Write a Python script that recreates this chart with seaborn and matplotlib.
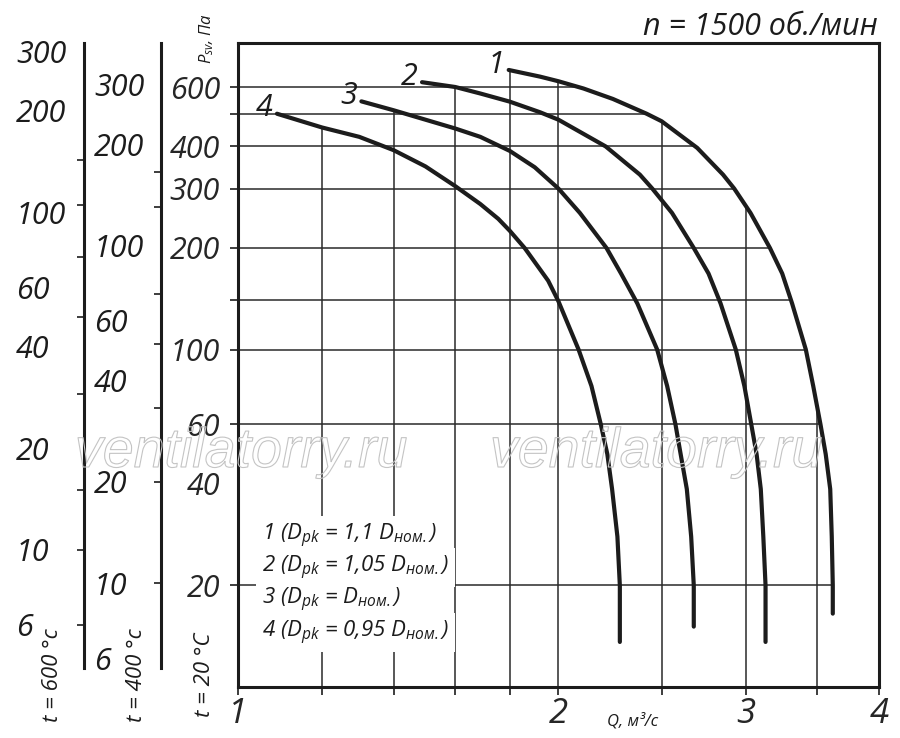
import numpy as np
import pandas as pd
import matplotlib
matplotlib.use('Agg')
import matplotlib.pyplot as plt
import matplotlib.patheffects as pe
import matplotlib.transforms as mtransforms
from matplotlib.ticker import NullFormatter, NullLocator
import seaborn as sns

# fan curves: Q, m3/s and P_sv, Pa (t = 20 C)
q1 = [1.796, 1.922, 2.0, 2.111, 2.25, 2.42, 2.5, 2.70, 2.855, 2.925, 3.03, 3.16, 3.245, 3.315, 3.415, 3.47, 3.525, 3.565, 3.60, 3.612, 3.62, 3.62]
p1 = [674, 644, 624, 594, 553, 500, 475, 396, 330, 300, 254, 200, 168, 137, 100, 78, 60, 49, 38.6, 27.9, 20, 16.5]
q2 = [1.489, 1.6, 1.689, 1.8, 1.922, 2.0, 2.215, 2.385, 2.45, 2.557, 2.68, 2.767, 2.84, 2.935, 2.99, 3.035, 3.07, 3.098, 3.115, 3.13, 3.13]
p2 = [620, 600, 574, 543, 505, 480, 400, 330, 300, 254, 200, 168, 137, 100, 78, 60, 49, 38.6, 27.9, 20, 13.6]
q3 = [1.306, 1.4, 1.6, 1.689, 1.8, 1.9, 2.0, 2.095, 2.219, 2.29, 2.372, 2.476, 2.53, 2.576, 2.605, 2.64, 2.665, 2.68, 2.68]
p3 = [544, 512, 452, 427, 388, 347, 300, 254, 200, 168, 137, 100, 78, 60, 49, 38.6, 27.9, 20, 15.1]
q4 = [1.088, 1.2, 1.3, 1.4, 1.5, 1.6, 1.689, 1.756, 1.8, 1.859, 1.956, 2.0, 2.089, 2.148, 2.192, 2.223, 2.246, 2.272, 2.284, 2.284]
p4 = [500, 455, 427, 390, 349, 305, 270, 244, 225, 200, 160, 139, 100, 78, 60, 49, 38.6, 27.9, 20, 13.6]
curve_names = ['1', '2', '3', '4']

legend_lines = [r'1 ($D_{pk}$ = 1,1 $D_{ном.}$)',
                r'2 ($D_{pk}$ = 1,05 $D_{ном.}$)',
                r'3 ($D_{pk}$ = $D_{ном.}$)',
                r'4 ($D_{pk}$ = 0,95 $D_{ном.}$)']

# grid and scales
grid_p = [20, 60, 100, 140, 200, 300, 400, 500, 600]
grid_q = [1.2, 1.4, 1.6, 1.8, 2.0, 2.5, 3.0, 3.5]
p_labels = [20, 40, 60, 100, 200, 300, 400, 600]
q_labels = [1, 2, 3, 4]

# extra pressure scales for hot air (values in Pa at that temperature)
t400_labels = [300, 200, 100, 60, 40, 20, 10, 6]
t400_ticks = [165, 130, 72, 51, 33, 20, 10]
t400_ratio = 2.03
t600_labels = [300, 200, 100, 60, 40, 20, 10, 6]
t600_ticks = [143, 105, 74, 49, 29, 15, 10, 6]
t600_ratio = 2.55

sns.set_style('white')
plt.rcParams['font.family'] = ['Open Sans', 'DejaVu Sans']
plt.rcParams['font.style'] = 'italic'
plt.rcParams['mathtext.fontset'] = 'custom'
plt.rcParams['mathtext.it'] = 'Open Sans:italic'
plt.rcParams['mathtext.rm'] = 'Open Sans:italic'

ink = '#1c1c1c'

df = pd.concat([pd.DataFrame({'Q': q, 'P': p, 'curve': n})
                for q, p, n in zip([q1, q2, q3, q4], [p1, p2, p3, p4], curve_names)],
               ignore_index=True)

fig = plt.figure(figsize=(9, 7.38), dpi=100)
ax = fig.add_axes([0.2644, 0.0691, 0.7122, 0.8726])

sns.lineplot(data=df, x='Q', y='P', hue='curve', hue_order=curve_names,
             palette=[ink] * 4, estimator=None, sort=False, legend=False,
             linewidth=3.0, solid_capstyle='round', solid_joinstyle='round',
             zorder=4, ax=ax)

ax.set_xscale('log')
ax.set_yscale('log')
ax.set_xlim(1, 4)
ax.set_ylim(10, 810)

# grid lines clipped under the curves, like on the paper chart
lq1 = np.log10(q1)
lp1 = np.log10(p1)
x_ends = [10 ** np.interp(np.log10(g), lp1[::-1], lq1[::-1]) for g in grid_p]
ax.hlines(grid_p, 1, x_ends, colors='#2a2a2a', linewidth=1.1, zorder=1.5)

y_starts = []
for g in grid_q:
    tops = []
    for q, p in zip([q1, q2, q3, q4], [p1, p2, p3, p4]):
        if q[0] <= g <= q[-1]:
            tops.append(10 ** np.interp(np.log10(g), np.log10(q), np.log10(p)))
    y_starts.append(max(tops))
ax.vlines(grid_q, 10, y_starts, colors='#2a2a2a', linewidth=1.1, zorder=1.5)

# axes frame and ticks
for s in ax.spines.values():
    s.set_color(ink)
    s.set_linewidth(2.2)

ax.set_xticks(q_labels, labels=[str(v) for v in q_labels])
ax.set_xticks(grid_q, minor=True)
ax.xaxis.set_minor_formatter(NullFormatter())
ax.tick_params(axis='x', which='both', direction='out', length=6, width=1.2,
               color=ink, labelsize=25, pad=1, bottom=True)

ax.set_yticks(p_labels, labels=[str(v) for v in p_labels])
ax.set_yticks(grid_p, minor=True)
ax.yaxis.set_minor_formatter(NullFormatter())
ax.yaxis.remove_overlapping_locs = False
ax.tick_params(axis='y', which='major', length=0, labelsize=22, pad=13, left=True)
ax.tick_params(axis='y', which='minor', direction='out', length=6, width=1.2,
               color=ink, left=True)
ax.set_ylabel('')

# extra scales t = 400 C and t = 600 C
blend = mtransforms.blended_transform_factory(ax.transAxes, ax.transData)
for loc, ticks, labels, r, lab_x in [(-0.1201, t400_ticks, t400_labels, t400_ratio, -0.2246),
                                     (-0.2402, t600_ticks, t600_labels, t600_ratio, -0.3463)]:
    sec = ax.secondary_yaxis(loc, functions=(lambda p, r=r: p / r, lambda v, r=r: v * r))
    sec.set_yticks(ticks)
    sec.yaxis.set_minor_locator(NullLocator())
    sec.tick_params(axis='y', which='major', direction='out', length=5, width=1.2,
                    color=ink, labelleft=False)
    sec.spines['left'].set_linewidth(2.2)
    sec.spines['left'].set_color(ink)
    sec.spines['left'].set_bounds(11.4 / r, 810 / r)
    for v in labels:
        ax.text(lab_x, v * r, str(v), transform=blend, ha='left', va='center_baseline',
                fontsize=22, color=ink, clip_on=False)

# curve numbers at the start of each curve
for q, p, n in zip([q1, q2, q3, q4], [p1, p2, p3, p4], curve_names):
    ax.annotate(n, xy=(q[0], p[0]), xytext=(-3, -2), textcoords='offset points',
                ha='right', va='baseline', fontsize=22, color=ink)

# legend block with white background
for i, line in enumerate(legend_lines):
    ax.text(0.0374, 0.2283 - 0.0502 * i, line, transform=ax.transAxes,
            ha='left', va='baseline', fontsize=16, color=ink, zorder=5,
            bbox=dict(facecolor='white', edgecolor='none', pad=4))

ax.set_xlabel('Q, м³/с', fontsize=12, color=ink)
ax.xaxis.set_label_coords(0.616, -0.040)

fig.text(878 / 900, 1 - 35 / 738, 'n = 1500 об./мин', ha='right', va='baseline',
         fontsize=22, color=ink)
fig.text(207 / 900, 1 - 38 / 738, r'$P_{sv}$, Па', rotation=90, ha='center',
         va='center', fontsize=12, color=ink)
for x, lab in [(53, 't = 600 °c'), (137, 't = 400 °c'), (204, 't = 20 °C')]:
    fig.text(x / 900, 1 - 675 / 738, lab, rotation=90, ha='center', va='center',
             fontsize=16, color=ink)

# watermark
for x in [75, 490]:
    fig.text(x / 900, 1 - 467 / 738, 'ventilatorry.ru', ha='left', va='baseline',
             fontsize=40, family='Liberation Sans', style='italic', color='none',
             path_effects=[pe.withStroke(linewidth=0.8, foreground='#c4c4c4')])

fig.savefig('out.png', dpi=100, facecolor='white')
